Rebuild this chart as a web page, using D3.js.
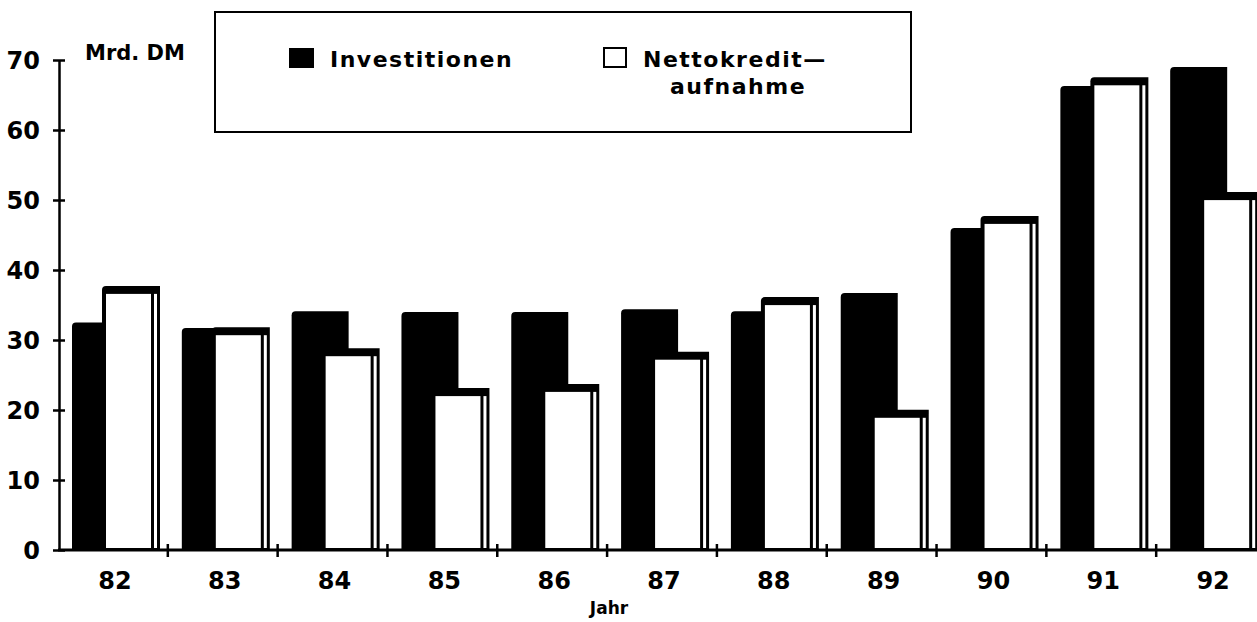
<!DOCTYPE html>
<html>
<head>
<meta charset="utf-8">
<script src="https://cdn.jsdelivr.net/npm/d3@7"></script>
<style>
  html, body { margin: 0; padding: 0; background: #fff; }
  svg { display: block; font-family: "DejaVu Sans", sans-serif; font-weight: bold; }
</style>
</head>
<body>
<svg id="chart"></svg>
<script>
// values (Mrd. DM)
const years = ['82', '83', '84', '85', '86', '87', '88', '89', '90', '91', '92'];
const investitionen = [32.5, 31.7, 34.1, 34.0, 34.0, 34.4, 34.1, 36.7, 46.0, 66.3, 69.0];
const nettokredit   = [37.3, 31.4, 28.4, 22.7, 23.3, 27.9, 35.7, 19.6, 47.3, 67.1, 50.7];
const yTicks = [0, 10, 20, 30, 40, 50, 60, 70];

const width = 1257, height = 622;
const svg = d3.select('#chart').attr('width', width).attr('height', height);

const x = d3.scaleBand()
  .domain(years)
  .range([58, 1266])
  .paddingInner(0)
  .paddingOuter(0);

const y = d3.scaleLinear()
  .domain([0, 70])
  .range([550, 60]);

const bw = x.bandwidth();

// rect with rounded top-left corner only
function bar(x0, y0, w, h, r) {
  return `M${x0},${y0 + h} V${y0 + r} Q${x0},${y0} ${x0 + r},${y0} H${x0 + w} V${y0 + h} Z`;
}

const rows = years.map((yr, i) => ({ yr, inv: investitionen[i], nka: nettokredit[i] }));

// black bars (Investitionen), behind
svg.append('g')
  .selectAll('path')
  .data(rows)
  .join('path')
    .attr('d', d => bar(x(d.yr) + 14, y(d.inv), 57, y(0) - y(d.inv), 4))
    .attr('fill', '#000');

// white bars (Nettokreditaufnahme) with thick top and double right edge
const wb = svg.append('g')
  .selectAll('g')
  .data(rows)
  .join('g');

wb.append('path')
  .attr('d', d => bar(x(d.yr) + 44, y(d.nka) - 3, 58, y(0) - y(d.nka) + 3, 4))
  .attr('fill', '#000');

wb.append('rect')
  .attr('x', d => x(d.yr) + 48)
  .attr('y', d => y(d.nka) + 5)
  .attr('width', 45)
  .attr('height', d => y(0) - y(d.nka) - 7)
  .attr('fill', '#fff');

wb.append('rect')
  .attr('x', d => x(d.yr) + 96)
  .attr('y', d => y(d.nka) + 5)
  .attr('width', 3)
  .attr('height', d => y(0) - y(d.nka) - 7)
  .attr('fill', '#fff');

// y axis
const yAxis = svg.append('g')
  .attr('transform', `translate(59,0)`)
  .call(d3.axisLeft(y).tickValues(yTicks).tickSize(6).tickPadding(0).tickSizeOuter(0));

yAxis.select('.domain').attr('stroke', '#000').attr('stroke-width', 2.5);
yAxis.selectAll('.tick line')
  .attr('x1', -6).attr('x2', 6)
  .attr('stroke', '#000').attr('stroke-width', 2.5);
yAxis.selectAll('.tick text')
  .attr('x', -19)
  .attr('dy', '0.36em')
  .attr('fill', '#000')
  .style('font-size', '24px')
  .style('font-family', '"DejaVu Sans", sans-serif')
  .style('font-weight', 'bold');

// x axis line
svg.append('line')
  .attr('x1', 58).attr('x2', width)
  .attr('y1', y(0)).attr('y2', y(0))
  .attr('stroke', '#000').attr('stroke-width', 3);

// x ticks at band boundaries
svg.append('g')
  .selectAll('line')
  .data(years.slice(1))
  .join('line')
    .attr('x1', d => x(d)).attr('x2', d => x(d))
    .attr('y1', y(0) - 6).attr('y2', y(0) + 7)
    .attr('stroke', '#000').attr('stroke-width', 2.5);

// x labels
svg.append('g')
  .selectAll('text')
  .data(years)
  .join('text')
    .attr('x', d => x(d) + bw / 2 + 2)
    .attr('y', 589)
    .attr('text-anchor', 'middle')
    .style('font-size', '24px')
    .text(d => d);

svg.append('text')
  .attr('x', 609).attr('y', 614)
  .attr('text-anchor', 'middle')
  .style('font-size', '17px')
  .text('Jahr');

svg.append('text')
  .attr('x', 85).attr('y', 60)
  .style('font-size', '21px')
  .text('Mrd. DM');

// legend
const legend = svg.append('g')
  .style('font-size', '22px')
  .style('letter-spacing', '1.5px');

legend.append('rect')
  .attr('x', 215).attr('y', 12)
  .attr('width', 696).attr('height', 120)
  .attr('fill', 'none').attr('stroke', '#000').attr('stroke-width', 2);

legend.append('rect')
  .attr('x', 289).attr('y', 48)
  .attr('width', 25).attr('height', 20)
  .attr('fill', '#000');
legend.append('text')
  .attr('x', 330).attr('y', 67)
  .text('Investitionen');

legend.append('rect')
  .attr('x', 604).attr('y', 48)
  .attr('width', 22).attr('height', 19)
  .attr('fill', '#fff').attr('stroke', '#000').attr('stroke-width', 2);
legend.append('text')
  .attr('x', 643).attr('y', 67)
  .text('Nettokredit—');
legend.append('text')
  .attr('x', 670).attr('y', 94)
  .text('aufnahme');
</script>
</body>
</html>
